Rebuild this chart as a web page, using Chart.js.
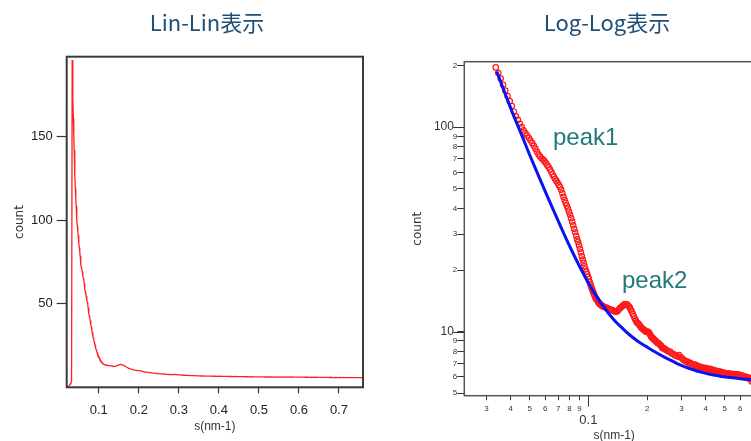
<!DOCTYPE html>
<html>
<head>
<meta charset="utf-8">
<script src="https://cdn.jsdelivr.net/npm/chart.js@4/dist/chart.umd.min.js"></script>
<style>
  html, body { margin: 0; padding: 0; width: 751px; height: 441px; overflow: hidden; background: #fff; }
  #wrap { position: relative; width: 751px; height: 441px; overflow: hidden; }
  canvas { position: absolute; }
  .title { position: absolute; font-family: "Noto Sans CJK JP", sans-serif; font-size: 22px; line-height: 22px; color: #1f4e79; white-space: nowrap; }
  .peak { position: absolute; font-family: "Liberation Sans", Arial, sans-serif; font-size: 24px; line-height: 24px; color: #217a78; white-space: nowrap; }
</style>
</head>
<body>
<div id="wrap">
  <canvas id="lin" width="380" height="441" style="left:0;top:0;width:380px;height:441px;"></canvas>
  <canvas id="log" width="400" height="460" style="left:390px;top:0;width:400px;height:460px;"></canvas>
  <div class="title" style="left:0;width:414px;top:10px;text-align:center;">Lin-Lin表示</div>
  <div class="title" style="left:507px;width:200px;top:10px;text-align:center;">Log-Log表示</div>
  <div class="peak" style="left:553px;top:125px;">peak1</div>
  <div class="peak" style="left:622px;top:268px;">peak2</div>
</div>
<script>
// ---- measured scattering data (s in nm^-1, intensity in counts) ----
const sValues = [
  0.0227,0.0245,0.0265,0.0284,0.0305,0.0320,
  0.0335,0.0345,0.0355,0.0365,0.0375,0.0385,0.0395,0.0405,0.0415,0.0425,
  0.0435,0.0445,0.0455,0.0465,0.0475,0.0485,0.0495,0.0505,0.0515,0.0525,
  0.0535,0.0545,0.0555,0.0565,0.0575,0.0585,0.0595,0.0605,0.0615,0.0625,
  0.0635,0.0645,0.0655,0.0665,0.0675,0.0685,0.0695,0.0705,0.0715,0.0725,
  0.0735,0.0745,0.0755,0.0765,0.0775,0.0785,0.0795,0.0805,0.0815,0.0825,
  0.0835,0.0845,0.0855,0.0865,0.0875,0.0885,0.0895,0.0905,0.0915,0.0925,
  0.0935,0.0945,0.0955,0.0965,0.0975,0.0985,0.0995,0.1005,0.1015,0.1025,
  0.1035,0.1045,0.1055,0.1065,0.1075,0.1085,0.1095,0.1105,0.1115,0.1125,
  0.1135,0.1145,0.1155,0.1165,0.1175,0.1185,0.1195,
  0.121,0.123,0.125,0.127,0.129,0.131,0.133,0.135,0.137,0.139,
  0.141,0.143,0.145,0.147,0.149,0.151,0.153,0.155,0.157,0.159,
  0.161,0.163,0.165,0.167,0.169,0.171,0.173,0.175,0.177,0.179,
  0.181,0.183,0.185,0.187,0.189,0.191,0.193,0.195,0.197,0.199,
  0.201,0.203,0.205,0.207,0.209,0.211,0.213,0.215,0.217,0.219,
  0.221,0.223,0.225,0.227,0.229,0.231,0.233,0.235,0.237,0.239,
  0.241,0.243,0.245,0.247,0.249,
  0.252,0.257,0.262,0.267,0.272,0.277,0.282,0.287,0.292,0.297,
  0.302,0.307,0.312,0.317,0.322,0.327,0.332,0.337,0.342,0.347,
  0.352,0.357,0.362,0.367,0.372,0.377,0.382,0.387,0.392,0.397,
  0.402,0.407,0.412,0.417,0.422,0.427,0.432,0.437,0.442,0.447,
  0.452,0.457,0.462,0.467,0.472,0.477,0.482,0.487,0.492,0.497,
  0.502,0.507,0.512,0.517,0.522,0.527,0.532,0.537,0.542,0.547,
  0.552,0.557,0.562,0.567,0.572,0.577,0.582,0.587,0.592,0.597,
  0.602,0.607,0.612,0.617,0.622,0.627,0.632,0.637,0.642,0.647,
  0.652,0.657,0.662,0.667,0.672,0.677,0.682,0.687,0.692,0.697,
  0.702,0.707,0.712,0.717,0.722,0.727,0.732,0.737,0.742,0.747,
  0.752,0.757
];
const intensity = [
  0.5,0.8,1.2,2.0,2.5,3.5,
  196,184,173,161,151,142,134,127,119,113,
  108.5,104,100,96.5,93.5,91,88.5,86,83.5,81,
  78.5,75.8,73.5,71.8,70.5,69.4,68.2,66.8,65.2,63.8,
  62.2,60.5,58.7,57.2,55.8,54.6,53.4,52.2,51.0,49.4,
  47.5,45.6,44.0,42.6,41.3,40.0,38.6,37.3,35.9,34.5,
  33.1,31.8,30.6,29.4,28.3,27.4,26.4,25.4,24.4,23.4,
  22.5,21.7,20.9,20.2,19.6,19.1,18.6,18.1,17.5,17.0,
  16.5,16.1,15.7,15.3,15.0,14.7,14.5,14.3,14.1,13.9,
  13.75,13.65,13.55,13.45,13.35,13.3,13.25,
  13.2,13.1,13.05,12.9,12.85,12.8,12.75,12.6,12.55,12.5,
  12.6,12.8,13.0,13.15,13.3,13.45,13.6,13.65,13.6,13.5,
  13.3,13.1,12.8,12.5,12.2,11.9,11.6,11.35,11.1,11.0,
  10.9,10.75,10.6,10.45,10.35,10.25,10.2,10.1,10.0,9.95,
  10.0,9.95,9.85,9.7,9.5,9.4,9.3,9.25,9.15,9.1,
  9.0,8.95,8.85,8.8,8.75,8.7,8.6,8.55,8.45,8.35,
  8.3,8.3,8.25,8.2,8.15,
  8.1,8.0,8.0,7.82,7.8,7.66,7.62,7.55,7.68,7.48,
  7.4,7.26,7.22,7.12,7.14,7.02,7.04,6.95,6.94,6.86,
  6.9,6.78,6.82,6.72,6.75,6.66,6.7,6.62,6.66,6.58,
  6.64,6.55,6.58,6.5,6.58,6.47,6.5,6.42,6.48,6.38,
  6.42,6.36,6.42,6.32,6.38,6.29,6.34,6.26,6.3,6.23,
  6.28,6.2,6.26,6.18,6.24,6.16,6.23,6.15,6.21,6.13,
  6.2,6.12,6.2,6.1,6.18,6.1,6.18,6.08,6.15,6.07,
  6.13,6.04,6.1,6.02,6.07,6.0,6.03,5.97,6.01,5.95,
  5.98,5.92,5.97,5.9,5.93,5.86,5.9,5.7,5.9,5.83,
  5.88,5.8,5.86,5.78,5.84,5.77,5.82,5.76,5.81,5.74,
  5.78,5.73
];
// ---- model fit curve (blue) ----
const fitS = [0.0339,0.037,0.0412,0.046,0.0502,0.055,0.0612,0.068,0.0744,0.082,0.0907,0.100,0.1104,0.122,0.1344,0.150,0.1636,0.180,0.1993,0.220,0.2425,0.270,0.2953,0.330,0.360,0.400,0.4375,0.480,0.533,0.600,0.675,0.760];
const fitI = [187,150,115,89,72.5,59,46.5,37,30.5,25,20.6,17.3,14.8,12.9,11.5,10.35,9.6,8.95,8.42,7.95,7.55,7.17,6.88,6.6,6.42,6.25,6.13,6.04,5.96,5.89,5.84,5.81];

// ---- tick values / labels ----
const linXTicks = [0.1,0.2,0.3,0.4,0.5,0.6,0.7];
const linXLabels = ['0.1','0.2','0.3','0.4','0.5','0.6','0.7'];
const linYTicks = [50,100,150];
const linYLabels = ['50','100','150'];
const logXTicks = [0.03,0.04,0.05,0.06,0.07,0.08,0.09,0.1,0.2,0.3,0.4,0.5,0.6,0.7];
const logXLabels = ['3','4','5','6','7','8','9','0.1','2','3','4','5','6','7'];
const logXMajor = [0.1];
const logYTicks = [5,6,7,8,9,10,20,30,40,50,60,70,80,90,100,200];
const logYLabels = ['5','6','7','8','9','10 ','2','3','4','5','6','7','8','9','100 ','2'];
const logYMajor = [10,100];
const xTitle = 's(nm-1)';
const yTitle = 'count';

const pts = (xs, ys) => xs.map((x, i) => ({x: x, y: ys[i]}));

const framePlugin = {
  id: 'frame',
  afterDraw(chart, args, opts) {
    const {ctx, chartArea: a} = chart;
    ctx.save();
    ctx.strokeStyle = opts.color;
    ctx.lineWidth = opts.width;
    ctx.strokeRect(a.left, a.top, a.right - a.left, a.bottom - a.top);
    if (opts.majorLen) {
      ctx.lineWidth = 1;
      ctx.strokeStyle = '#333';
      const xs = chart.scales.x, ys = chart.scales.y;
      xs.ticks.forEach(t => {
        if (!t.major) return;
        const p = Math.round(xs.getPixelForValue(t.value)) + 0.5;
        ctx.beginPath(); ctx.moveTo(p, a.bottom); ctx.lineTo(p, a.bottom + opts.majorLen); ctx.stroke();
      });
      ys.ticks.forEach(t => {
        if (!t.major) return;
        const p = Math.round(ys.getPixelForValue(t.value)) + 0.5;
        ctx.beginPath(); ctx.moveTo(a.left, p); ctx.lineTo(a.left - opts.majorLen, p); ctx.stroke();
      });
    }
    ctx.restore();
  }
};

const tickFont = {family: '"Liberation Sans", Arial, sans-serif', size: 13};
const titleFontX = {family: '"Liberation Sans", Arial, sans-serif', size: 12};
const titleFontY = {family: '"DejaVu Sans", sans-serif', size: 12};

// ---------- Lin-Lin chart ----------
new Chart(document.getElementById('lin'), {
  type: 'scatter',
  data: {
    datasets: [{
      data: pts(sValues, intensity),
      showLine: true,
      borderColor: '#ff2020',
      borderWidth: 1.3,
      pointRadius: 0,
      tension: 0
    }]
  },
  options: {
    responsive: false,
    animation: false,
    events: [],
    layout: {padding: {left: 0, right: 17, top: 56.7, bottom: 0}},
    plugins: {legend: {display: false}, tooltip: {enabled: false}, frame: {color: '#3a3a3a', width: 2}},
    scales: {
      x: {
        type: 'linear', min: 0.0198, max: 0.76,
        afterBuildTicks: s => { s.ticks = linXTicks.map(v => ({value: v})); },
        afterFit: s => { s.height = 441 - 387.3; },
        ticks: {autoSkip: false, maxRotation: 0, padding: 9, color: '#222', font: tickFont,
                callback: (v, i) => linXLabels[i]},
        grid: {drawOnChartArea: false, drawTicks: true, tickLength: 6, tickColor: '#333', tickWidth: 1.2},
        border: {display: false},
        title: {display: true, text: xTitle, color: '#333', font: titleFontX, padding: {top: 0, bottom: 7.5}}
      },
      y: {
        type: 'linear', min: 0, max: 198,
        afterBuildTicks: s => { s.ticks = linYTicks.map(v => ({value: v})); },
        afterFit: s => { s.width = 66.7; },
        ticks: {autoSkip: false, padding: 4, color: '#222', font: tickFont,
                callback: (v, i) => linYLabels[i]},
        grid: {drawOnChartArea: false, drawTicks: true, tickLength: 10, tickColor: '#333', tickWidth: 1.2},
        border: {display: false},
        title: {display: true, text: yTitle, color: '#333', font: titleFontY, padding: {top: 13, bottom: 0}}
      }
    }
  },
  plugins: [framePlugin]
});

// ---------- Log-Log chart ----------
new Chart(document.getElementById('log'), {
  type: 'scatter',
  data: {
    datasets: [{
      data: pts(fitS, fitI),
      showLine: true,
      borderColor: '#0a14f0',
      borderWidth: 3,
      pointRadius: 0,
      cubicInterpolationMode: 'monotone'
    }, {
      data: pts(sValues, intensity),
      showLine: false,
      pointStyle: 'circle',
      pointRadius: 2.7,
      borderWidth: 1.2,
      borderColor: '#ff1a1a',
      backgroundColor: 'rgba(255,255,255,0)'
    }]
  },
  options: {
    responsive: false,
    animation: false,
    events: [],
    layout: {padding: {left: 0, right: 26, top: 61.7, bottom: 0}},
    plugins: {legend: {display: false}, tooltip: {enabled: false}, frame: {color: '#555', width: 1.5, majorLen: 11}},
    scales: {
      x: {
        type: 'logarithmic', min: 0.0231, max: 0.795,
        afterBuildTicks: s => { s.ticks = logXTicks.map(v => ({value: v, major: logXMajor.includes(v)})); },
        afterFit: s => { s.height = 460 - 395.7; },
        ticks: {autoSkip: false, maxRotation: 0, padding: 4, color: '#333',
                font: c => (c.tick && c.tick.major)
                  ? {family: '"Liberation Sans", Arial, sans-serif', size: 13, lineHeight: 0.85}
                  : {family: '"Liberation Sans", Arial, sans-serif', size: 8, lineHeight: 1.2},
                callback: (v, i) => logXMajor.includes(logXTicks[i]) ? ['', logXLabels[i]] : logXLabels[i]},
        grid: {drawOnChartArea: false, drawTicks: true, tickLength: 4.5, tickColor: '#333', tickWidth: 1},
        border: {display: false},
        title: {display: true, text: xTitle, color: '#333', font: titleFontX, padding: {top: 0, bottom: 17}}
      },
      y: {
        type: 'logarithmic', min: 4.86, max: 209,
        afterBuildTicks: s => { s.ticks = logYTicks.map(v => ({value: v, major: logYMajor.includes(v)})); },
        afterFit: s => { s.width = 74.3; },
        ticks: {autoSkip: false, padding: 0, color: '#333',
                font: c => (c.tick && c.tick.major)
                  ? {family: '"Liberation Sans", Arial, sans-serif', size: 12}
                  : {family: '"Liberation Sans", Arial, sans-serif', size: 8},
                callback: (v, i) => logYLabels[i]},
        grid: {drawOnChartArea: false, drawTicks: true, tickLength: 7, tickColor: '#333', tickWidth: 1},
        border: {display: false},
        title: {display: true, text: yTitle, color: '#333', font: titleFontY, padding: {top: 21, bottom: 0}}
      }
    }
  },
  plugins: [framePlugin]
});
</script>
</body>
</html>
